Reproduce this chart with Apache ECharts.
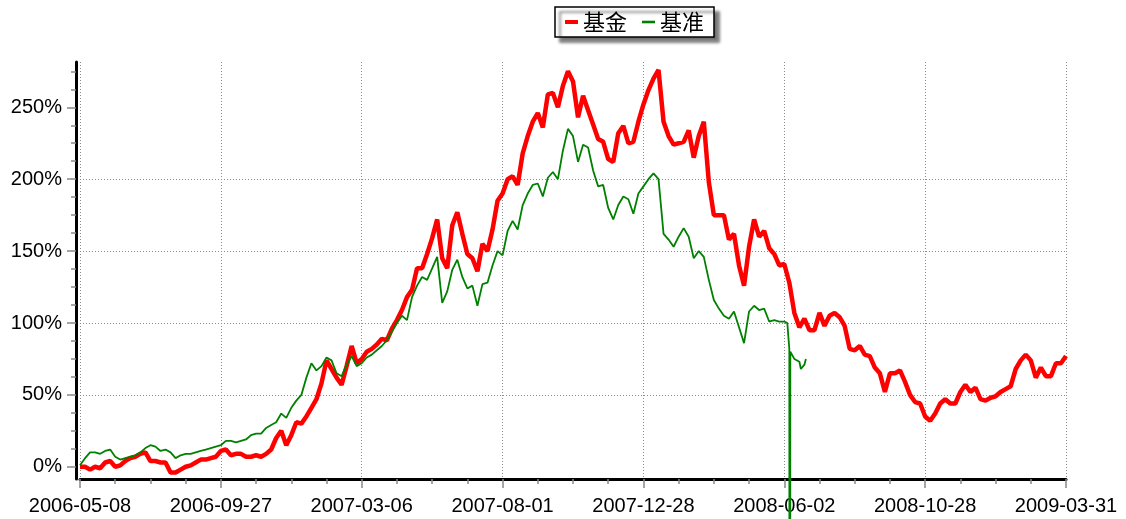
<!DOCTYPE html>
<html>
<head>
<meta charset="utf-8">
<script src="https://cdn.jsdelivr.net/npm/echarts@6/dist/echarts.min.js"></script>
<style>html,body{margin:0;padding:0;background:#fff;}#c{width:1126px;height:519px;}</style>
</head>
<body>
<div id="c"></div>
<script>
// x-axis tick labels (one every 28 sample steps)
const tickLabels = ['2006-05-08','2006-09-27','2007-03-06','2007-08-01','2007-12-28','2008-06-02','2008-10-28','2009-03-31'];
const seriesNames = ['基金', '基准'];
const yTicks = [0, 50, 100, 150, 200, 250];

// 基金 cumulative return (%), one value per sample step
const fund = [
  0, 0, -2, 0, -1, 3, 4, 0, 1, 4, 6, 7, 9, 10, 4, 4, 3, 3, -4, -4,
  -2, 0, 1, 3, 5, 5, 6, 7, 11, 12, 8, 9, 9, 7, 7, 8, 7, 9, 12, 20,
  25, 15, 22, 31, 30, 35, 41, 47, 58, 74, 68, 62, 57, 70, 84, 72, 75, 80, 82, 85,
  89, 88, 96, 102, 109, 118, 123, 138, 138, 148, 159, 172, 145, 138, 168, 177, 162, 148, 145, 136,
  155, 150, 165, 185, 190, 200, 202, 196, 218, 230, 240, 246, 236, 259, 260, 250, 265, 275, 268, 243,
  258, 248, 238, 228, 226, 214, 212, 232, 237, 225, 226, 240, 252, 262, 270, 276, 240, 230, 224, 225,
  226, 234, 215, 230, 240, 198, 175, 175, 175, 158, 162, 140, 126, 153, 172, 160, 164, 152, 148, 140,
  141, 128, 107, 97, 103, 95, 95, 107, 98, 105, 107, 104, 98, 82, 81, 84, 78, 77, 69, 65,
  52, 65, 65, 67, 59, 50, 45, 44, 35, 32, 37, 44, 47, 44, 44, 52, 57, 52, 55, 47,
  46, 48, 49, 52, 54, 56, 68, 74, 78, 74, 62, 69, 63, 63, 72, 72, 77
];

// 基准 cumulative return (%), one value per sample step
const bench = [
  1, 6, 10, 10, 9, 11, 12, 7, 5, 6, 7, 8, 10, 13, 15, 14, 11, 12, 10, 6,
  8, 9, 9, 10, 11, 12, 13, 14, 15, 18, 18, 17, 18, 19, 22, 23, 23, 27, 29, 31,
  37, 34, 41, 46, 50, 62, 72, 67, 70, 76, 74, 65, 63, 71, 77, 70, 72, 76, 78, 81,
  84, 88, 94, 100, 105, 102, 118, 126, 132, 130, 138, 146, 114, 122, 137, 144, 132, 124, 126, 112,
  127, 128, 140, 150, 147, 164, 171, 165, 182, 190, 196, 197, 188, 201, 205, 200, 220, 235, 230, 212,
  224, 222, 206, 195, 196, 180, 172, 182, 188, 186, 176, 190, 195, 200, 204, 200, 162, 158, 153, 160,
  166, 160, 145, 150, 146, 130, 116, 110, 105, 103, 108, 97, 86, 108, 112, 109, 110, 101, 102, 101,
  101
];
// 基准 last days: [sample step, value], including the bad data point that plunges off the chart
const benchTail = [
  [140.6, 100], [141.0, 82], [141.1, -1000], [141.2, 80], [142, 75], [143, 73], [143.3, 68], [144, 71], [144.3, 75]
];

const fundData = fund.map((v, i) => [i, v]);
const benchData = bench.map((v, i) => [i, v]).concat(benchTail);

const chart = echarts.init(document.getElementById('c'), null, {renderer: 'canvas'});
const gridDot = {color: '#8c8c8c', width: 1, type: [1, 2]};
chart.setOption({
  animation: false,
  backgroundColor: '#fff',
  legend: {
    left: 555, top: 7,
    padding: [4, 10, 4, 10],
    itemGap: 15, itemWidth: 13, itemHeight: 4,
    backgroundColor: '#fff', borderColor: '#000', borderWidth: 1.5,
    shadowColor: 'rgba(0,0,0,0.55)', shadowBlur: 3, shadowOffsetX: 5, shadowOffsetY: 5,
    textStyle: {fontSize: 22, color: '#000', fontFamily: 'Noto Sans CJK SC'},
    data: [
      {name: seriesNames[0], icon: 'rect'},
      {name: seriesNames[1], icon: 'path://M0,0h10v2h-10z'}
    ]
  },
  grid: {left: 80, right: 60, top: 62, bottom: 40, containLabel: false},
  xAxis: {
    type: 'value', min: 0, max: 196, interval: 28,
    axisLine: {show: true, onZero: false, lineStyle: {color: '#000', width: 3}},
    axisTick: {show: true, length: 9, lineStyle: {color: '#888', width: 1.5}},
    minorTick: {show: true, splitNumber: 4, length: 5, lineStyle: {color: '#888', width: 1.5}},
    axisLabel: {
      fontSize: 20, color: '#000', fontFamily: 'Liberation Sans', margin: 17,
      formatter: v => tickLabels[Math.round(v / 28)] || ''
    },
    splitLine: {show: true, lineStyle: gridDot}
  },
  yAxis: {
    type: 'value', min: -8.5, max: 281.5, offset: 4,
    axisLine: {show: true, onZero: false, lineStyle: {color: '#000', width: 3}},
    axisTick: {show: true, length: 9, customValues: yTicks, lineStyle: {color: '#888', width: 1.5}},
    minorTick: {show: true, splitNumber: 4, length: 5, lineStyle: {color: '#888', width: 1.5}},
    axisLabel: {
      fontSize: 20, color: '#000', fontFamily: 'Liberation Sans', margin: 14,
      customValues: yTicks,
      formatter: v => v + '%'
    },
    splitLine: {show: true, showMinLine: false, showMaxLine: false, lineStyle: gridDot}
  },
  series: [
    {
      name: seriesNames[0], type: 'line', data: fundData, showSymbol: false, symbol: 'none',
      lineStyle: {color: '#ff0000', width: 4.5}, itemStyle: {color: '#ff0000'}, z: 2
    },
    {
      name: seriesNames[1], type: 'line', data: benchData, showSymbol: false, symbol: 'none', clip: false,
      lineStyle: {color: '#008000', width: 1.8}, itemStyle: {color: '#008000'}, z: 3
    }
  ]
});
</script>
</body>
</html>
